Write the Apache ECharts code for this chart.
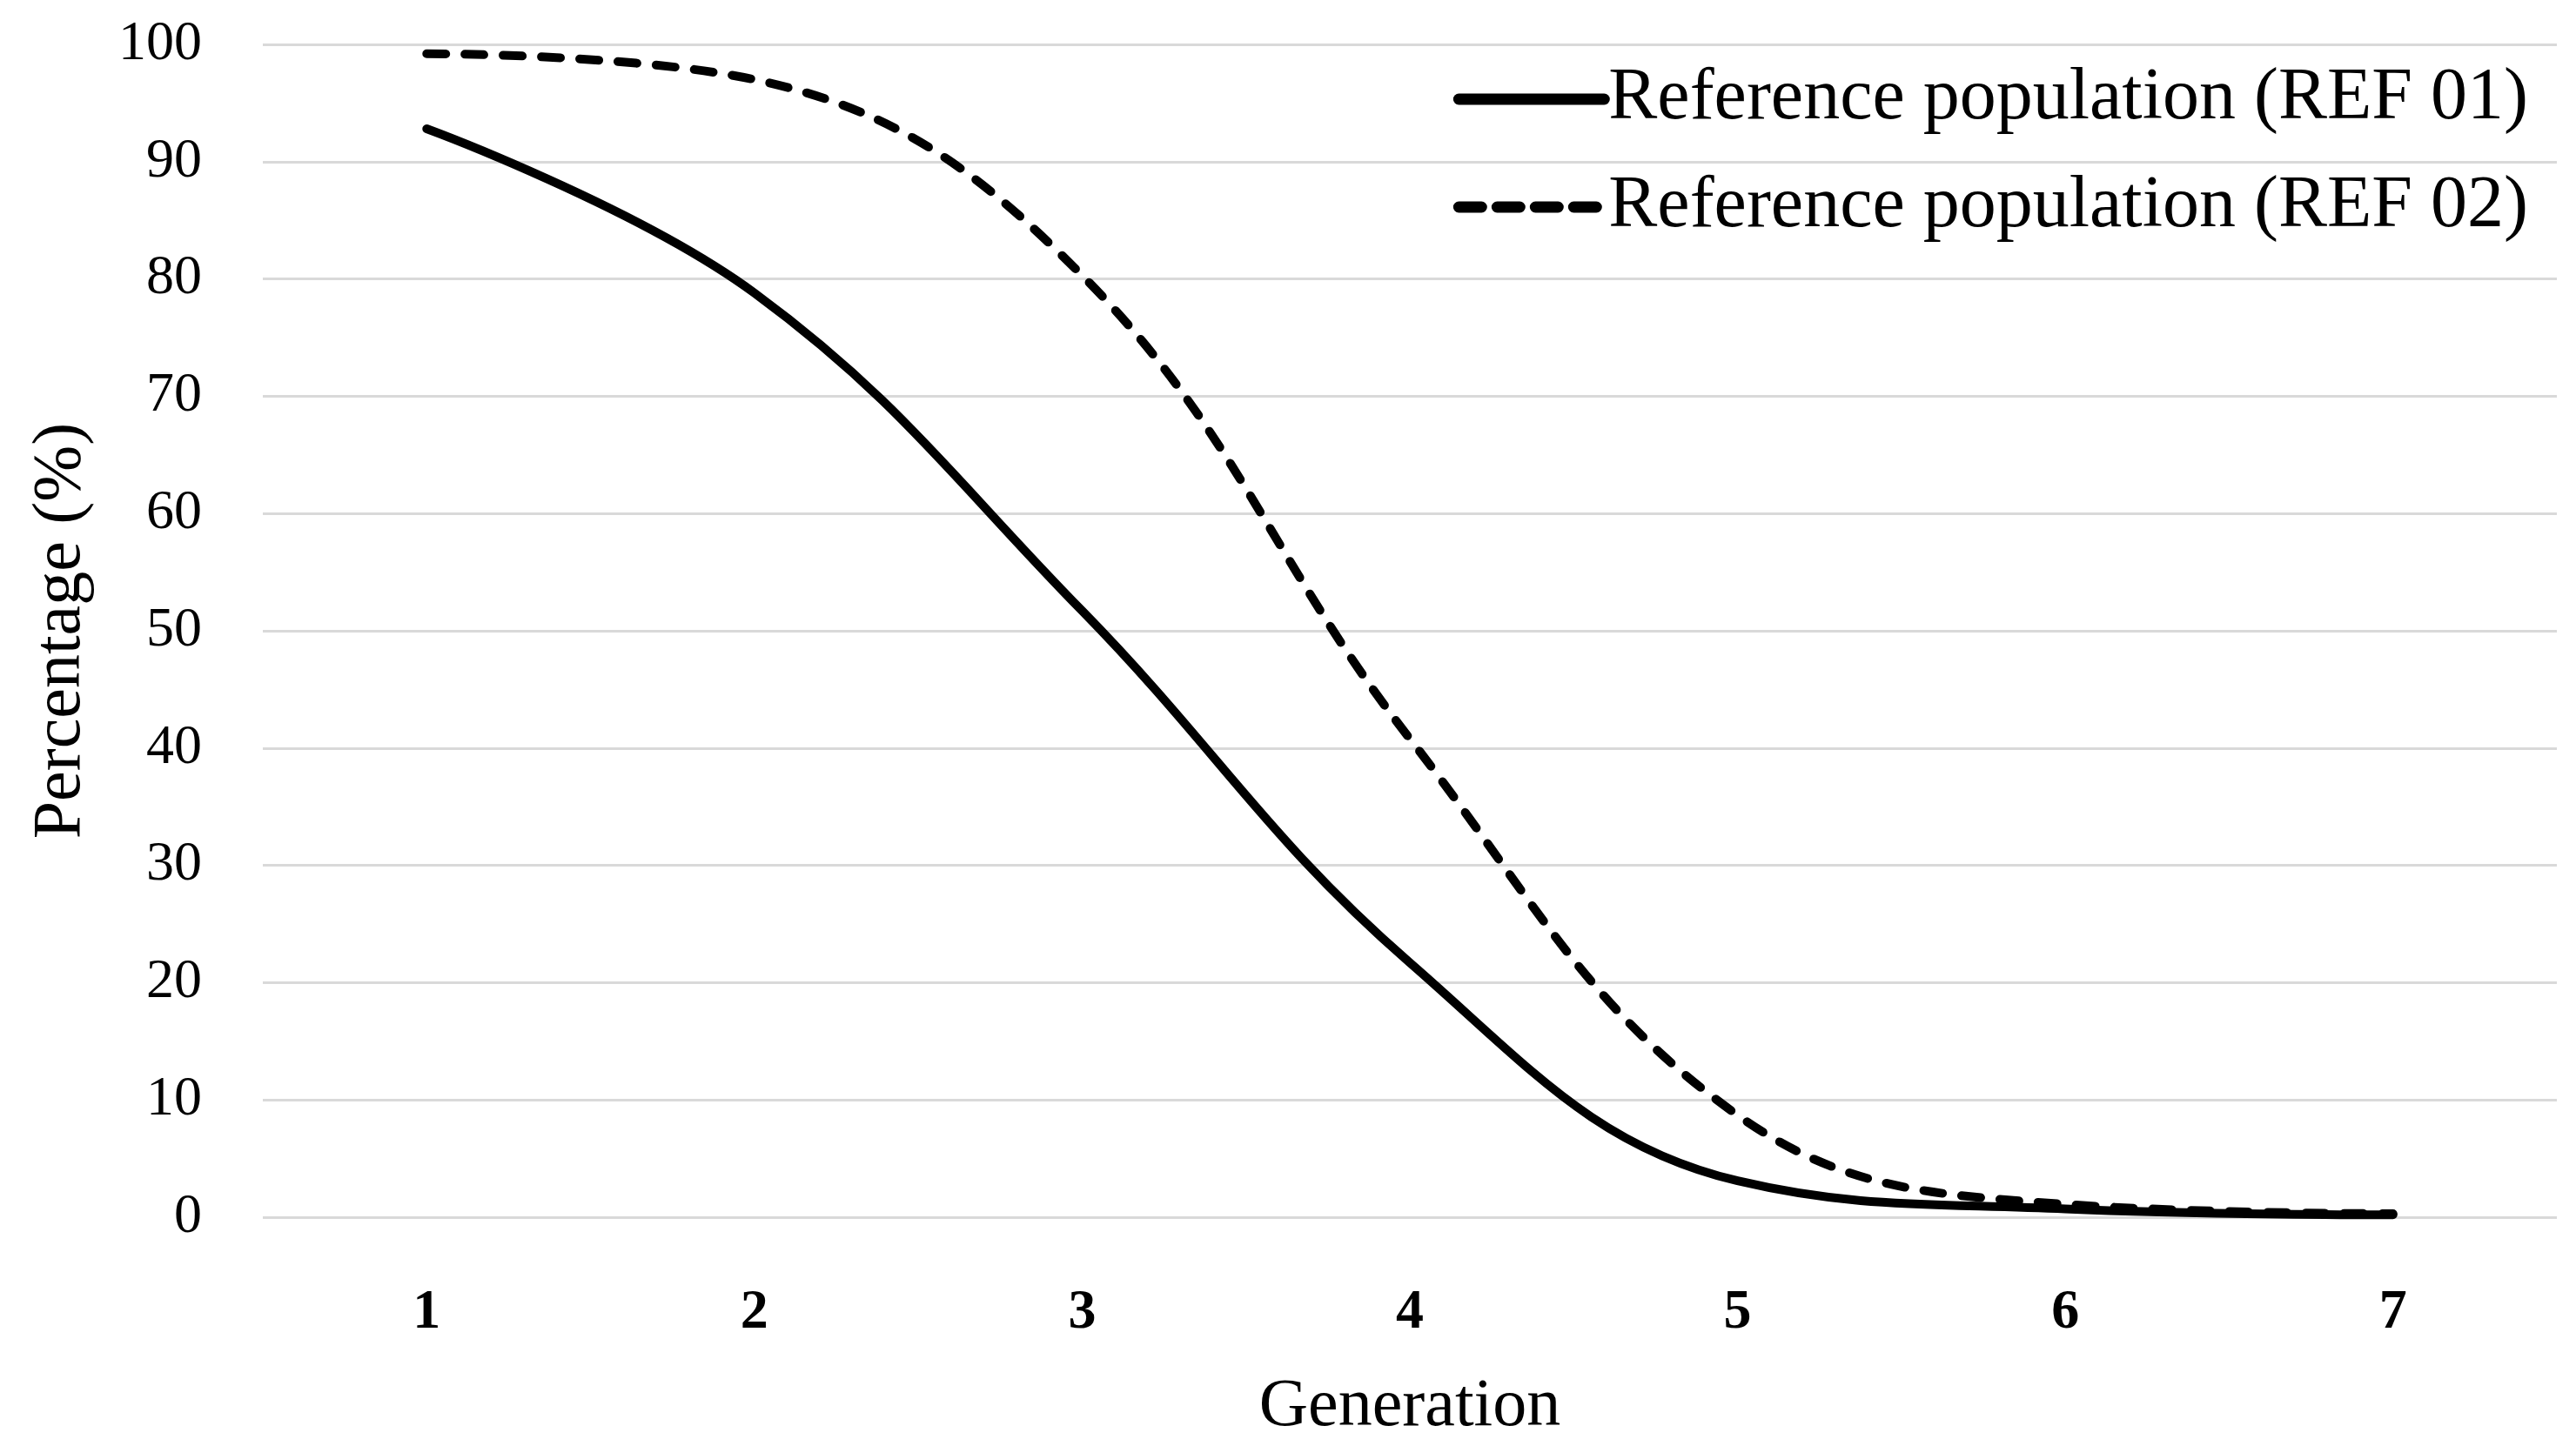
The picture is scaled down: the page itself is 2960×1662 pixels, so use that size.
<!DOCTYPE html>
<html>
<head>
<meta charset="utf-8">
<script src="https://cdn.jsdelivr.net/npm/echarts@6/dist/echarts.min.js"></script>
<style>
html,body{margin:0;padding:0;background:#fff;}
#chart{width:2960px;height:1662px;}
</style>
</head>
<body>
<div id="chart"></div>
<script>
const generations = ['1','2','3','4','5','6','7'];
const ref01 = [92.8, 78.8, 51.7, 21.7, 3.1, 0.7, 0.2];
const ref02 = [99.2, 97.0, 80.3, 40.8, 8.7, 1.1, 0.3];
const seriesNames = ['Reference population (REF 01)', 'Reference population (REF 02)'];
const yTicks = {min: 0, max: 100, interval: 10};

const FONT = 'Liberation Serif';
const chart = echarts.init(document.getElementById('chart'));
chart.setOption({
  backgroundColor: '#ffffff',
  animation: false,
  grid: {left: 302, right: 22, top: 51, bottom: 258, containLabel: false},
  legend: {
    orient: 'vertical',
    right: 50,
    top: 62,
    itemWidth: 167,
    itemHeight: 20,
    itemGap: 30,
    itemStyle: {opacity: 0},
    textStyle: {fontFamily: FONT, fontSize: 84, color: '#000', lineHeight: 94},
    data: [
      {name: seriesNames[0], lineStyle: {color: '#000', width: 13, type: 'solid', cap: 'round'}},
      {name: seriesNames[1], lineStyle: {color: '#000', width: 13, type: [26, 18], cap: 'round'}}
    ]
  },
  xAxis: {
    type: 'category',
    data: generations,
    boundaryGap: true,
    name: 'Generation',
    nameLocation: 'middle',
    nameGap: 180,
    nameTextStyle: {fontFamily: FONT, fontSize: 78, color: '#000'},
    axisLine: {show: false},
    axisTick: {show: false},
    axisLabel: {fontFamily: FONT, fontSize: 64, fontWeight: 'bold', color: '#000', margin: 78}
  },
  yAxis: {
    type: 'value',
    min: yTicks.min, max: yTicks.max, interval: yTicks.interval,
    name: 'Percentage (%)',
    nameLocation: 'middle',
    nameGap: 192,
    nameRotate: 90,
    nameTextStyle: {fontFamily: FONT, fontSize: 78, color: '#000'},
    axisLine: {show: false},
    axisTick: {show: false},
    axisLabel: {fontFamily: FONT, fontSize: 64, color: '#000', margin: 70},
    splitLine: {lineStyle: {color: '#d9d9d9', width: 3}}
  },
  series: [
    {
      name: seriesNames[0], type: 'line', data: ref01,
      smooth: 0.4, symbol: 'none',
      lineStyle: {color: '#000', width: 10, cap: 'round'},
      itemStyle: {color: '#000'}
    },
    {
      name: seriesNames[1], type: 'line', data: ref02,
      smooth: 0.4, symbol: 'none',
      lineStyle: {color: '#000', width: 10, type: [22, 22], cap: 'round'},
      itemStyle: {color: '#000'}
    }
  ]
});
</script>
</body>
</html>
